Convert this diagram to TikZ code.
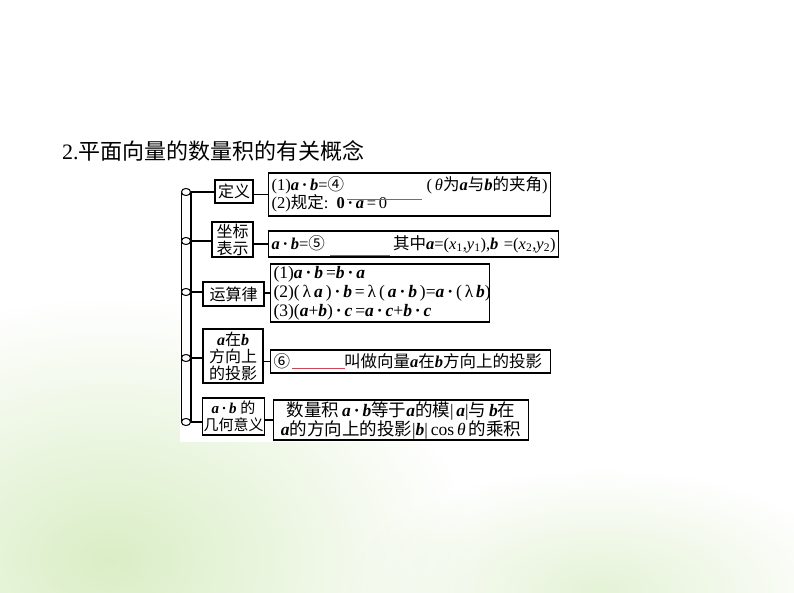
\documentclass[tikz,border=0pt]{standalone}
\usepackage{fontspec}
\setmainfont{Liberation Serif}
\newfontfamily\cjk{Noto Sans CJK SC}
\usetikzlibrary{shapes.geometric,fadings}

\definecolor{ulred}{RGB}{205,70,85}
\definecolor{washgreen}{RGB}{218,238,198}
\tikzfading[name=softblob, inner color=transparent!0, outer color=transparent!100]
\newcommand\veca{\textbf{\textit{a}}}
\newcommand\vecb{\textbf{\textit{b}}}
\newcommand\vecc{\textbf{\textit{c}}}
\newcommand\pdot{\,\textbf{·}\,}
\newcommand\pushright{\hskip0pt plus1filll}

\begin{document}
\begin{tikzpicture}[x=1pt,y=-1pt]
        \tikzset{headbox/.style = {draw,line width=1.1pt,inner sep=1pt,align=center,
                 font=\fontsize{16}{17}\selectfont}}
        \tikzset{bodybox/.style = {draw,line width=1.1pt,inner xsep=3pt,inner ysep=1pt,
                 anchor=west,align=left,font=\fontsize{16.5}{18}\selectfont}}
        \tikzset{ring/.style = {ellipse,draw,fill=white,line width=0.9pt,
                 minimum width=9pt,minimum height=7pt,inner sep=0pt}}
        \tikzset{link/.style = {line width=1.1pt}}
        % background
        \useasboundingbox (0,0) rectangle (794,593);
        \fill[white] (0,0) rectangle (794,593);
        \fill[washgreen,path fading=softblob] (110,560) ellipse (360 and 260);
        \fill[washgreen!70,path fading=softblob] (600,590) ellipse (250 and 120);
        \fill[white] (180,172) rectangle (560,442);
        % title
        \node[anchor=base west,inner sep=0pt,font=\fontsize{22}{24}\selectfont] (title) at (62,160)
             {2.{\cjk 平面向量的数量积的有关概念}};
        % rings
        \node[ring] (r1) at (186,192) {};
        \node[ring] (r2) at (186,241) {};
        \node[ring] (r3) at (186,292) {};
        \node[ring] (r4) at (186,358) {};
        \node[ring] (r5) at (186,422) {};
        % head boxes
        \node[headbox,minimum width=38pt,minimum height=23pt] (h1) at (234,191.5) {\cjk 定义};
        \node[headbox,minimum width=41pt,minimum height=35pt] (h2) at (232.5,239.5) {\cjk 坐标\\\cjk 表示};
        \node[headbox,minimum width=61pt,minimum height=24pt] (h3) at (233.5,294) {\cjk 运算律};
        \node[headbox,minimum width=60pt,minimum height=54pt] (h4) at (233,356)
             {\veca{\cjk 在}\vecb\\\cjk 方向上\\\cjk 的投影};
        \node[headbox,minimum width=61pt,minimum height=37pt,font=\fontsize{15}{17}\selectfont] (h5) at (233.5,416.5)
             {\veca\pdot\vecb\ {\cjk 的}\\\cjk 几何意义};
        % body boxes
        \node[bodybox,text width=276pt,minimum height=43pt] (b1) at (268,194.5)
             {(1)\veca\pdot\vecb={\cjk ④}\pushright(\,\textit{θ}{\cjk 为}\veca{\cjk 与}\vecb{\cjk 的夹角})\\
              (2){\cjk 规定}: \textbf{0}\pdot\veca\,=\,0};
        \node[bodybox,text width=284pt,minimum height=26pt] (b2) at (268,244)
             {\veca\pdot\vecb={\cjk ⑤}\pushright{\cjk 其中}\veca=(\textit{x}\textsubscript{1},\textit{y}\textsubscript{1}),\vecb\ =(\textit{x}\textsubscript{2},\textit{y}\textsubscript{2})};
        \node[bodybox,text width=213pt,minimum height=58pt,font=\fontsize{17.5}{19}\selectfont] (b3) at (270,293)
             {(1)\veca\pdot\vecb\,=\vecb\pdot\veca\\
              (2)(\,λ\,\veca\,)\pdot\vecb\,=\,λ\,(\,\veca\pdot\vecb\,)=\veca\pdot(\,λ\,\vecb)\\
              (3)(\veca+\vecb)\pdot\vecc\,=\veca\pdot\vecc+\vecb\pdot\vecc};
        \node[bodybox,text width=274pt,minimum height=23pt] (b4) at (270,361.5)
             {{\cjk ⑥}\hspace{54pt}{\cjk 叫做向量}\veca{\cjk 在}\vecb{\cjk 方向上的投影}};
        \node[bodybox,text width=249pt,minimum height=40pt,align=center,font=\fontsize{17.5}{19}\selectfont] (b5) at (273,420)
             {{\cjk 数量积}\,\veca\pdot\vecb{\cjk 等于}\veca{\cjk 的模}|\,\veca|{\cjk 与}\,\vecb{\cjk 在}\\
              \veca{\cjk 的方向上的投影}|\vecb|\,cos\,\textit{θ}\,{\cjk 的乘积}};
        % blanks
        \draw[ulred,line width=1pt] (347,200) -- (422,200);
        \draw[ulred,line width=1pt] (330,256) -- (390,256);
        \draw[ulred,line width=1pt] (292,368) -- (345,368);
        % rails
        \draw[link] (r1.west) -- (r5.west);
        \draw[link] (r1.east) -- (r5.east);
        \foreach \i in {1,...,5} {
            \node[ring] at (r\i) {};
            \draw[link] (r\i.east) -- (r\i.east -| h\i.west);
            \draw[link] (h\i.east |- b\i.west) -- (b\i.west);
        }
\end{tikzpicture}
\end{document}
